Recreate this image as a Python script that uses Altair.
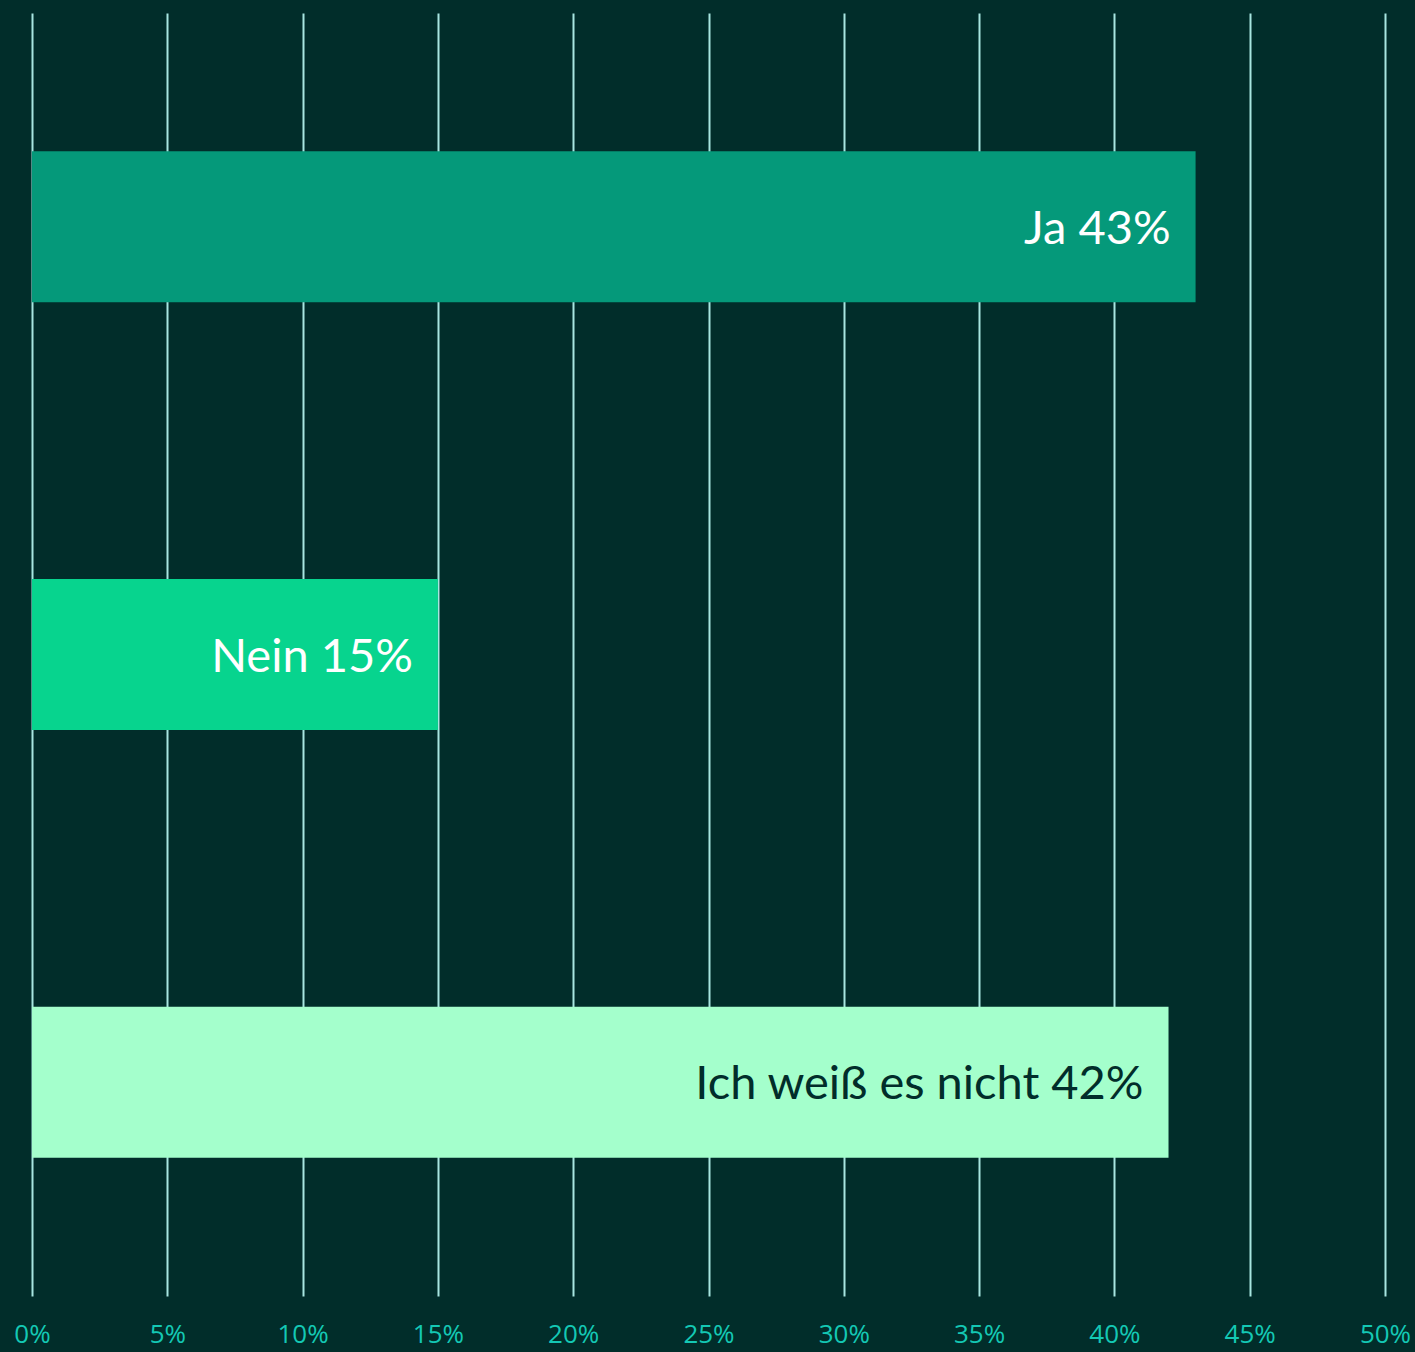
import altair as alt
import pandas as pd

categories = ["Ja", "Nein", "Ich weiß es nicht"]
values = [43, 15, 42]
bar_colors = ["#05997a", "#07d48e", "#a4ffcc"]
text_colors = ["#ffffff", "#ffffff", "#012d2a"]
x_ticks = [0, 5, 10, 15, 20, 25, 30, 35, 40, 45, 50]

df = pd.DataFrame({
    "cat": categories,
    "val": values,
    "label": [f"{c} {v}%" for c, v in zip(categories, values)],
    "bar_color": bar_colors,
    "text_color": text_colors,
})

x = alt.X("val:Q", scale=alt.Scale(domain=[0, 50], nice=False, zero=True),
          axis=alt.Axis(values=x_ticks, labelExpr="datum.value + '%'", title=None,
                        domain=False, ticks=False, grid=True, gridColor="#a8e6e0",
                        gridWidth=2, labelColor="#14c8b4", labelFont="Open Sans",
                        labelFontSize=26, labelPadding=25, labelFlush=False))
y = alt.Y("cat:N", sort=categories,
          scale=alt.Scale(paddingInner=0.647, paddingOuter=0.3235),
          axis=None)

bars = alt.Chart(df).mark_bar().encode(
    x=x, y=y, color=alt.Color("bar_color:N", scale=None)
)

texts = alt.Chart(df).mark_text(align="right", baseline="middle", dx=-25, dy=3,
                                font="Lato", fontSize=47).encode(
    x="val:Q", y=alt.Y("cat:N", sort=categories), text="label:N",
    color=alt.Color("text_color:N", scale=None)
)

chart = (bars + texts).properties(
    width=1353, height=1283,
    background="#012d2a",
    padding={"left": 32, "top": 13, "right": 30, "bottom": 56},
    autosize=alt.AutoSizeParams(type="none"),
).configure_view(stroke=None)

chart.save("out.html", embed_options={"renderer": "svg", "actions": False})
